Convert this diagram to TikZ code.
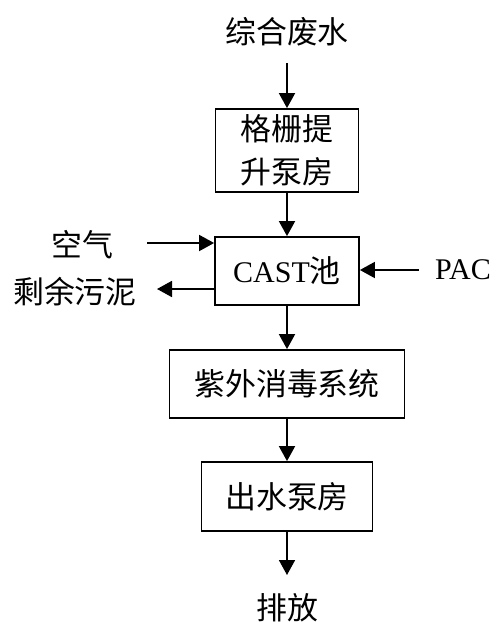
\documentclass[tikz,border=0pt]{standalone}
\usepackage{fontspec}
\setmainfont{Liberation Serif}
\newfontfamily\cjk[Scale=1.03]{Noto Sans CJK SC}
\usetikzlibrary{arrows.meta}
\begin{document}
\begin{tikzpicture}[x=1pt,y=-1pt,
 box/.style={draw,line width=1.8pt,inner sep=0pt,align=center,font=\fontsize{30}{43}\selectfont},
 lbl/.style={inner sep=0pt,font=\fontsize{30}{36}\selectfont},
 arr/.style={line width=1.8pt,-{Triangle[length=15pt,width=16pt]}}]
\useasboundingbox (0,0) rectangle (501,622);
\node[box,minimum width=143pt,minimum height=83pt] (b1) at (287,150.5) {\cjk 格栅提\\\cjk 升泵房};
\node[box,minimum width=144pt,minimum height=68pt] (cast) at (287,271) {CAST{\cjk 池}};
\node[box,minimum width=235pt,minimum height=68pt] (uv) at (287,384) {\cjk 紫外消毒系统};
\node[box,minimum width=171pt,minimum height=69pt] (out) at (287,496.5) {\cjk 出水泵房};
\node[lbl] (in) at (287,32) {\cjk 综合废水};
\node[lbl] (air) at (82,245) {\cjk 空气};
\node[lbl] (sludge) at (75,292) {\cjk 剩余污泥};
\node[lbl] (pac) at (463,270) {PAC};
\node[lbl] (dis) at (287,608) {\cjk 排放};
\coordinate (s0) at (287,63);
\coordinate (a0) at (147,243);
\coordinate (sl) at (157,289);
\coordinate (p0) at (419,270);
\coordinate (e0) at (287,575);
\draw[arr] (s0) -- (b1.north);
\draw[arr] (b1.south) -- (cast.north);
\draw[arr] (cast.south) -- (uv.north);
\draw[arr] (uv.south) -- (out.north);
\draw[arr] (out.south) -- (e0);
\draw[arr] (a0) -- (cast.west |- a0);
\draw[arr] (cast.west |- sl) -- (sl);
\draw[arr] (p0) -- (cast.east |- p0);
\end{tikzpicture}
\end{document}
